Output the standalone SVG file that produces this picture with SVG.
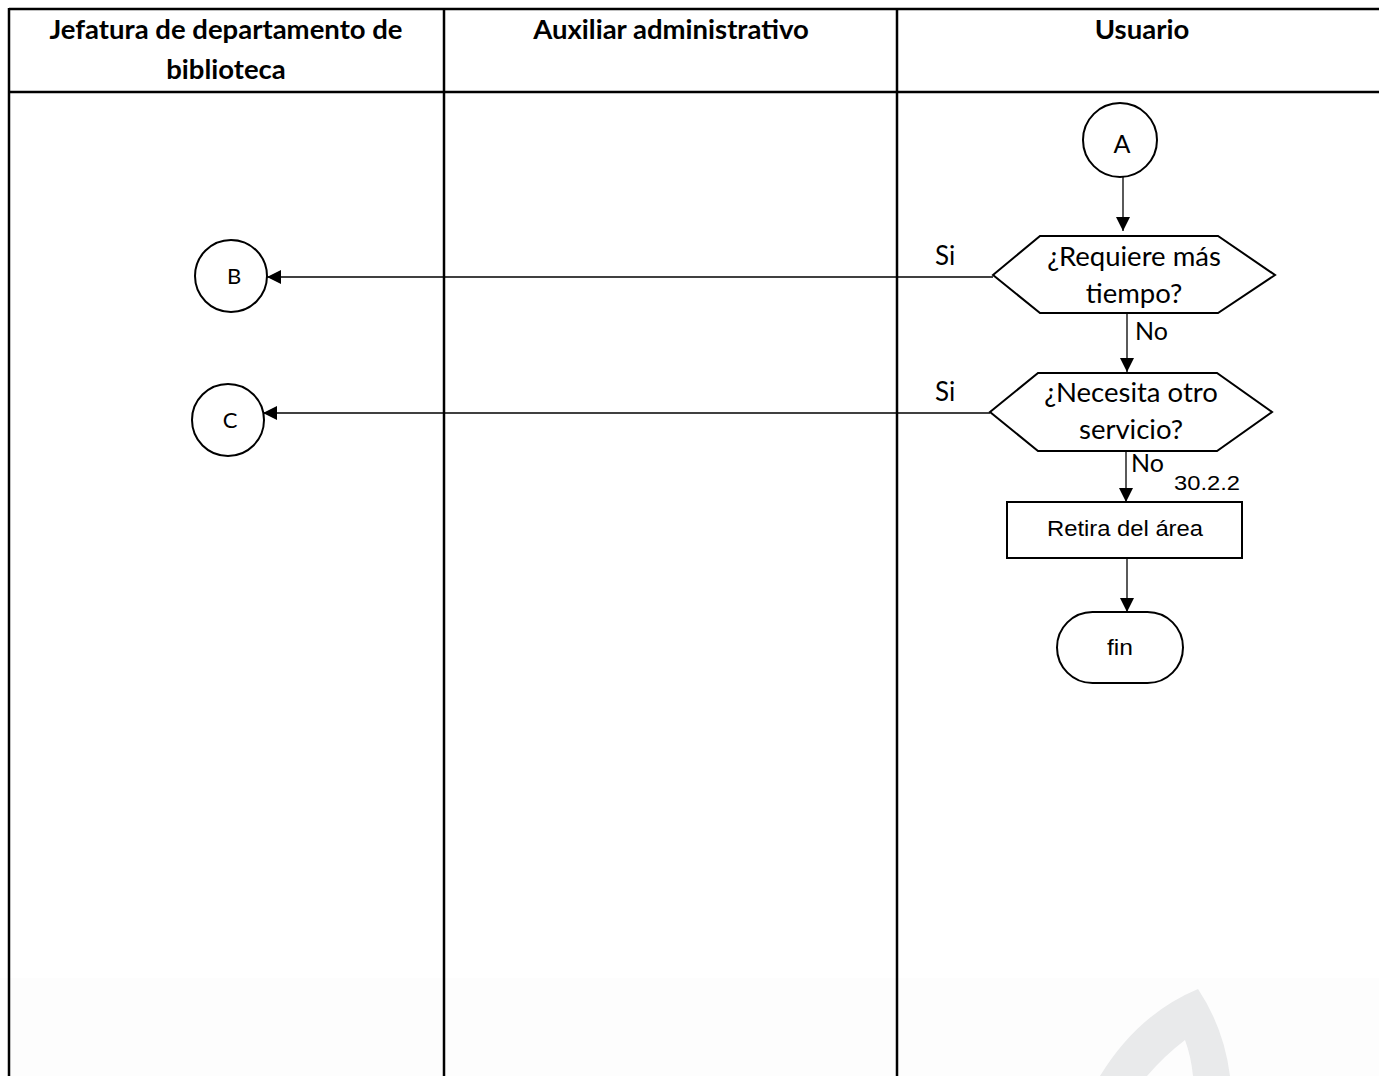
<svg xmlns="http://www.w3.org/2000/svg" width="1379" height="1076" viewBox="0 0 1379 1076">
<style>
.lane{stroke:#000;stroke-width:2.5;fill:none}
.shape{stroke:#000;stroke-width:2;fill:#fff}
.conn{stroke:#000;stroke-width:1.3;fill:none;marker-end:url(#arr)}
.hdr{font-family:Lato,"Open Sans",sans-serif;font-weight:bold;font-size:27.5px;fill:#000;text-anchor:middle}
.cal{font-family:Lato,"Open Sans",sans-serif;font-size:27.5px;fill:#000;text-anchor:middle}
.lbl{font-family:Lato,"Open Sans",sans-serif;font-size:25px;fill:#000}
.ar{font-family:"Liberation Sans",Arial,sans-serif;font-size:22px;fill:#000;text-anchor:middle}
</style>
<defs>
<marker id="arr" markerUnits="userSpaceOnUse" markerWidth="15" markerHeight="15" refX="14" refY="7" orient="auto">
<path d="M0,0 L14,7 L0,14 z" fill="#000"/>
</marker>
</defs>
<rect x="0" y="0" width="1379" height="1076" fill="#fff"/>
<rect x="0" y="978" width="1379" height="98" fill="#fdfdfd"/>
<path d="M1198,989 Q1224,1028 1230,1076 L1193,1076 Q1191,1056 1185,1040 Q1164,1056 1147,1076 L1100,1076 Q1138,1014 1198,989 Z" fill="#e9eaeb"/>

<g id="lanes">
<line class="lane" x1="9" y1="9" x2="1379" y2="9"/>
<line class="lane" x1="9" y1="92" x2="1379" y2="92"/>
<line class="lane" x1="9" y1="8" x2="9" y2="1076"/>
<line class="lane" x1="444" y1="8" x2="444" y2="1076"/>
<line class="lane" x1="897" y1="8" x2="897" y2="1076"/>
<text class="hdr" x="226" y="39">Jefatura de departamento de</text>
<text class="hdr" x="226" y="79">biblioteca</text>
<text class="hdr" x="671" y="39">Auxiliar administrativo</text>
<text class="hdr" x="1142" y="39">Usuario</text>
</g>

<g id="connectors">
<line class="conn" x1="1123" y1="177" x2="1123" y2="231"/>
<line class="conn" x1="993" y1="277" x2="267" y2="277"/>
<line class="conn" x1="1127" y1="313" x2="1127" y2="372"/>
<line class="conn" x1="990" y1="413" x2="263" y2="413"/>
<line class="conn" x1="1126" y1="451" x2="1126" y2="502"/>
<line class="conn" x1="1127" y1="559" x2="1127" y2="612"/>
<text class="lbl" x="935" y="265" style="font-size:26px">Si</text>
<text class="lbl" x="1135" y="340">No</text>
<text class="lbl" x="935" y="401" style="font-size:26px">Si</text>
<text class="lbl" x="1131" y="472">No</text>
</g>

<g id="node-A">
<circle class="shape" cx="1120" cy="140" r="37"/>
<text class="cal" x="1122" y="153" style="font-size:25px">A</text>
</g>

<g id="node-d1">
<polygon class="shape" points="993,275 1040,236 1218,236 1275,275 1218,313 1040,313"/>
<text class="cal" x="1134" y="266">¿Requiere más</text>
<text class="cal" x="1134" y="303">tiempo?</text>
</g>

<g id="node-d2">
<polygon class="shape" points="990,412 1038,373 1217,373 1272,412 1217,451 1038,451"/>
<text class="cal" x="1131" y="402">¿Necesita otro</text>
<text class="cal" x="1131" y="439">servicio?</text>
</g>

<g id="node-B">
<circle class="shape" cx="231" cy="276" r="36"/>
<text class="cal" x="234" y="284" style="font-size:22px">B</text>
</g>

<g id="node-C">
<circle class="shape" cx="228" cy="420" r="36"/>
<text class="cal" x="230" y="428" style="font-size:22px">C</text>
</g>

<g id="node-retira">
<text class="ar" x="1207" y="490" style="font-size:20px" textLength="66" lengthAdjust="spacingAndGlyphs">30.2.2</text>
<rect class="shape" x="1007" y="502" width="235" height="56"/>
<text class="ar" x="1125" y="536" textLength="156" lengthAdjust="spacingAndGlyphs">Retira del área</text>
</g>

<g id="node-fin">
<rect class="shape" x="1057" y="612" width="126" height="71" rx="35.5" ry="35.5"/>
<text class="ar" x="1120" y="655" textLength="26" lengthAdjust="spacingAndGlyphs">fin</text>
</g>
</svg>
